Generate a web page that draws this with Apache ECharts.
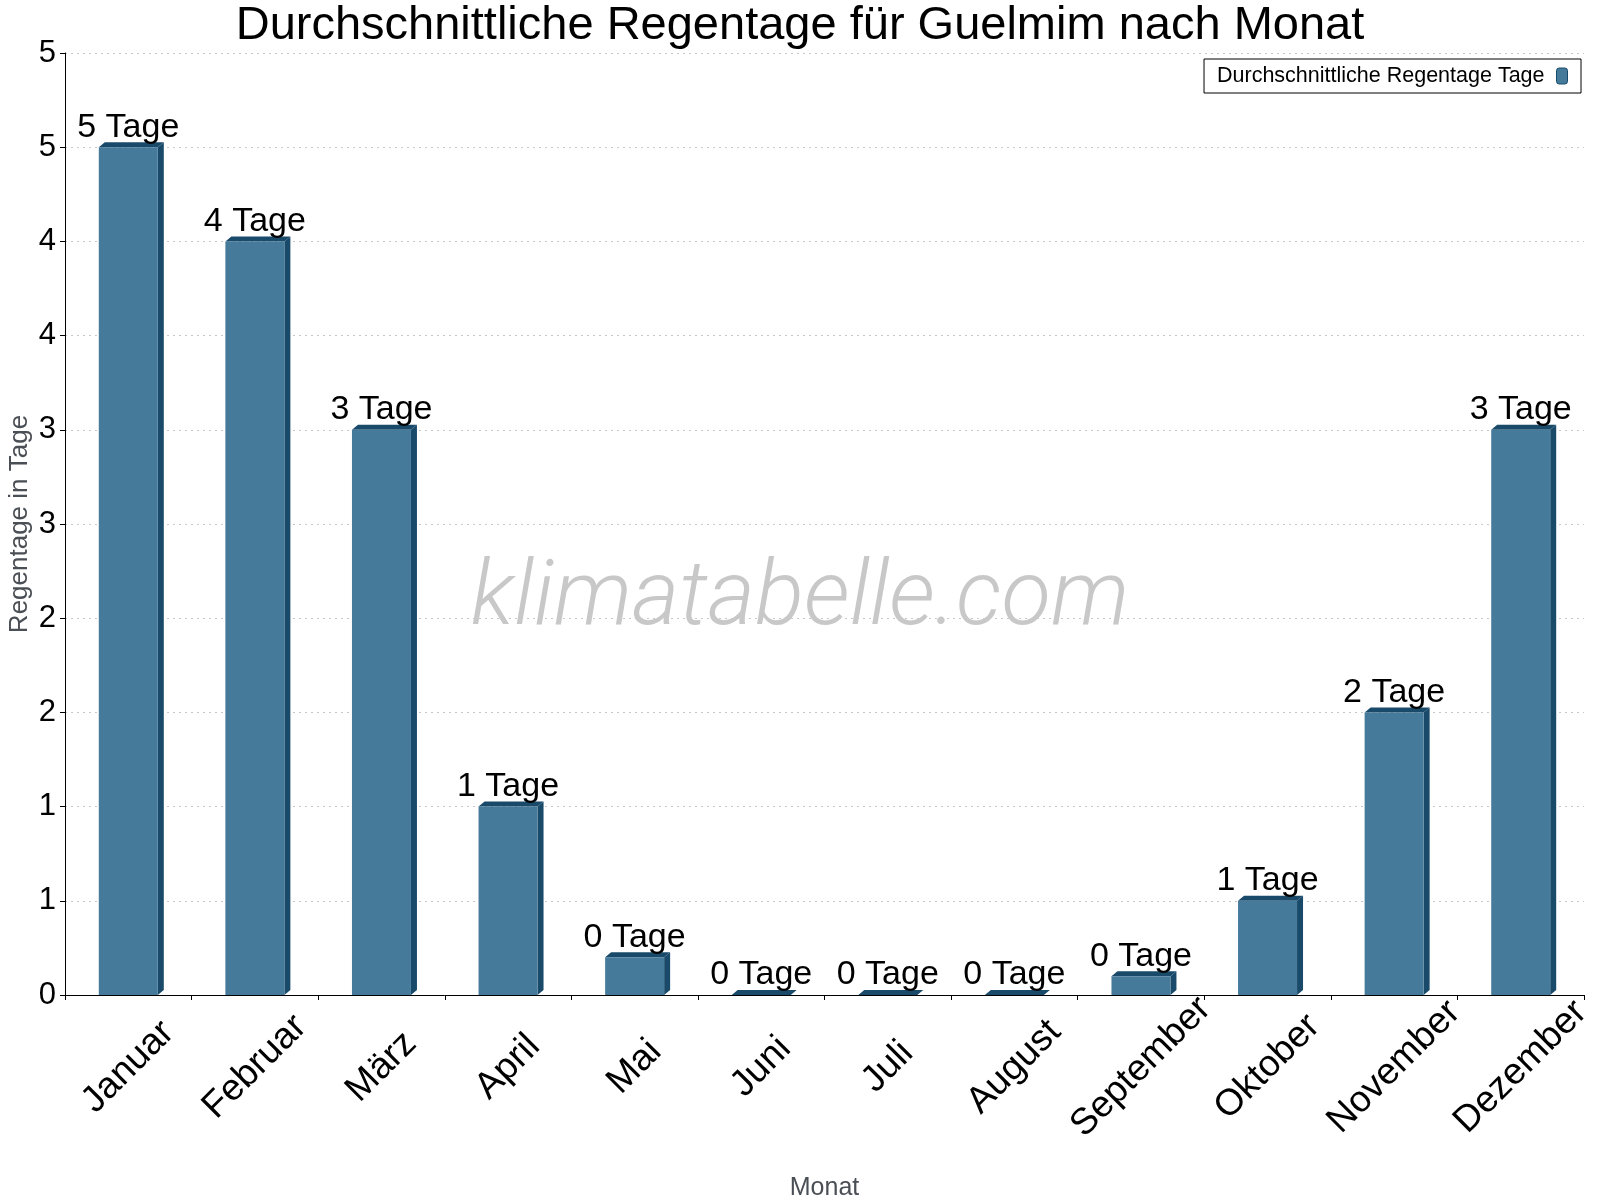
<!DOCTYPE html>
<html>
<head>
<meta charset="utf-8">
<title>Regentage Guelmim</title>
<script src="https://cdn.jsdelivr.net/npm/echarts@6/dist/echarts.min.js"></script>
<style>
  html, body { margin: 0; padding: 0; background: #fff; }
  #main { width: 1600px; height: 1200px; }
</style>
</head>
<body>
<div id="main"></div>
<script>
const months = ["Januar", "Februar", "März", "April", "Mai", "Juni", "Juli", "August", "September", "Oktober", "November", "Dezember"];
const rainDays = [4.5, 4.0, 3.0, 1.0, 0.2, 0, 0, 0, 0.1, 0.5, 1.5, 3.0];
const yTicks = [0, 0.5, 1, 1.5, 2, 2.5, 3, 3.5, 4, 4.5, 5];

const FONT = "'Liberation Sans', Arial, sans-serif";
const FRONT = "#467a9b";
const DARK = "#1a4a6a";

const chart = echarts.init(document.getElementById("main"));

// darker side + top face, like the old 3d bars
function render3d(params, api) {
  const top = api.coord([api.value(0), api.value(1)]);
  const base = api.coord([api.value(0), 0]);
  const half = 29.5, dx = 6, dy = 5;
  const x0 = top[0] - half, x1 = top[0] + half;
  return {
    type: "group",
    children: [
      {
        type: "polygon",
        shape: { points: [[x1, top[1]], [x1 + dx, top[1] - dy], [x1 + dx, base[1] - dy], [x1, base[1]]] },
        style: { fill: DARK }
      },
      {
        type: "polygon",
        shape: { points: [[x0, top[1]], [x0 + dx, top[1] - dy], [x1 + dx, top[1] - dy], [x1, top[1]]] },
        style: { fill: DARK }
      }
    ]
  };
}

const option = {
  animation: false,
  backgroundColor: "#fff",
  textStyle: { fontFamily: FONT },
  title: {
    text: "Durchschnittliche Regentage für Guelmim nach Monat",
    left: "center",
    top: -2,
    textStyle: { fontFamily: FONT, fontSize: 47, fontWeight: "normal", color: "#000" }
  },
  legend: {
    data: ["Durchschnittliche Regentage Tage"],
    right: 19,
    top: 59,
    align: "right",
    padding: [6, 13, 6, 13],
    borderColor: "#000",
    borderWidth: 1,
    itemWidth: 11,
    itemHeight: 16,
    textStyle: { fontFamily: FONT, fontSize: 21.5, color: "#000", padding: [0, 7, 0, 0] },
    itemStyle: { borderColor: DARK, borderWidth: 1 }
  },
  graphic: [
    {
      type: "text",
      left: "center",
      top: 556,
      silent: true,
      style: {
        text: "klimatabelle.com",
        fontFamily: "Roboto, 'Open Sans', sans-serif",
        fontWeight: 300,
        fontStyle: "italic",
        fontSize: 91,
        fill: "#c8c8c8"
      }
    }
  ],
  grid: { left: 65, right: 16, top: 53, bottom: 205, containLabel: false, outerBoundsMode: "none" },
  xAxis: {
    type: "category",
    data: months,
    name: "Monat",
    nameLocation: "middle",
    nameGap: 181,
    nameTextStyle: { fontFamily: FONT, fontSize: 25, color: "#4a4f55" },
    axisLine: { lineStyle: { color: "#000", width: 1 } },
    axisTick: { show: true, length: 5, lineStyle: { color: "#000" } },
    axisLabel: {
      rotate: 45,
      align: "center",
      verticalAlign: "middle",
      margin: 72,
      fontSize: 37,
      color: "#000",
      fontFamily: FONT
    },
    splitLine: { show: false }
  },
  yAxis: {
    type: "value",
    min: 0,
    max: 5,
    interval: 0.5,
    name: "Regentage in Tage",
    nameLocation: "middle",
    nameGap: 32,
    nameMoveOverlap: false,
    nameTextStyle: { fontFamily: FONT, fontSize: 26, color: "#4a4f55" },
    axisLine: { show: true, lineStyle: { color: "#000", width: 1 } },
    axisTick: { show: true, length: 5, lineStyle: { color: "#000" } },
    axisLabel: {
      fontSize: 31,
      color: "#000",
      margin: 9,
      fontFamily: FONT,
      formatter: v => String(Math.round(v))
    },
    splitLine: { show: true, lineStyle: { color: "#c8c8c8", type: [2, 4], width: 1 } }
  },
  series: [
    {
      name: "Durchschnittliche Regentage Tage",
      type: "bar",
      data: rainDays,
      barWidth: 59,
      itemStyle: { color: FRONT },
      z: 3,
      label: {
        show: true,
        position: "top",
        distance: 3,
        fontSize: 34,
        color: "#000",
        fontFamily: FONT,
        formatter: p => Math.round(p.value) + " Tage"
      }
    },
    {
      name: "3d",
      type: "custom",
      renderItem: render3d,
      data: rainDays.map((v, i) => [i, v]),
      encode: { x: 0, y: 1 },
      z: 2,
      silent: true
    }
  ]
};

chart.setOption(option);
</script>
</body>
</html>
